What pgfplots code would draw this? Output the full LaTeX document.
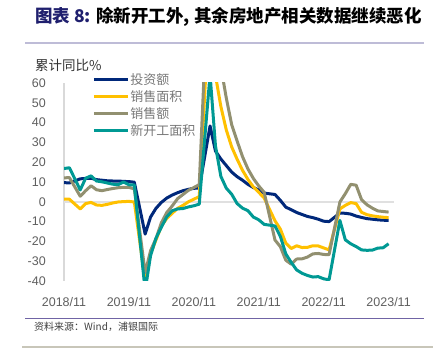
\documentclass[border=0pt]{standalone}
\usepackage{fontspec}
\setmainfont{Liberation Sans}
\newfontfamily\cjk{Noto Sans CJK SC}
\usepackage{pgfplots}
\usepackage{pgfplotstable}
\pgfplotsset{compat=1.18}
\definecolor{cinv}{RGB}{0,40,122}
\definecolor{carea}{RGB}{255,192,0}
\definecolor{camt}{RGB}{146,144,112}
\definecolor{cstart}{RGB}{0,153,148}
\definecolor{tickgray}{RGB}{95,95,95}
\definecolor{leggray}{RGB}{120,120,120}
\definecolor{titleblue}{RGB}{31,31,110}
\definecolor{rulepurple}{RGB}{112,100,165}
\definecolor{rulelight}{RGB}{190,188,215}
\definecolor{rulebeige}{RGB}{200,198,185}

\pgfplotstableread{
x y
0 9.7
1 9.5
3 11.6
4 11.8
5 11.9
6 11.2
7 10.9
8 10.6
9 10.5
10 10.5
11 10.3
12 10.2
13 9.9
15 -16.3
16 -7.7
17 -3.3
18 -0.3
19 1.9
20 3.4
21 4.6
22 5.6
23 6.3
24 6.8
25 7.0
27 38.3
28 25.6
29 21.6
30 18.3
31 15.0
32 12.7
33 10.9
34 8.8
35 7.2
36 6.0
37 4.4
39 3.7
40 0.7
41 -2.7
42 -4.0
43 -5.4
44 -6.4
45 -7.4
46 -8.0
47 -8.8
48 -9.8
49 -10.0
51 -5.7
52 -5.8
53 -6.2
54 -7.2
55 -7.9
56 -8.5
57 -8.8
58 -9.1
59 -9.3
60 -9.4
}\tinv

\pgfplotstableread{
x y
0 1.4
1 1.3
3 -3.6
4 -0.9
5 -0.3
6 -1.6
7 -1.8
8 -1.3
9 -0.6
10 -0.1
11 0.1
12 0.2
13 -0.1
15 -39.9
16 -26.3
17 -19.3
18 -12.3
19 -8.4
20 -5.8
21 -3.3
22 -1.8
23 0.0
24 1.3
25 2.6
27 104.9
28 63.8
29 48.1
30 36.3
31 27.7
32 21.5
33 15.9
34 11.3
35 7.5
36 4.8
37 1.9
39 -9.6
40 -13.8
41 -20.9
42 -23.6
43 -22.2
44 -23.1
45 -23.0
46 -22.2
47 -22.3
48 -23.3
49 -24.3
51 -3.6
52 -1.8
53 -0.4
54 -0.9
55 -5.3
56 -6.5
57 -7.1
58 -7.5
59 -7.8
60 -8.0
}\tarea

\pgfplotstableread{
x y
0 12.1
1 12.2
3 2.8
4 5.6
5 8.1
6 6.1
7 5.6
8 6.2
9 6.7
10 7.1
11 7.3
12 7.3
13 6.5
15 -35.9
16 -24.7
17 -18.6
18 -10.6
19 -5.4
20 -2.1
21 1.6
22 3.7
23 5.8
24 7.2
25 8.7
27 133.4
28 88.5
29 68.2
30 52.4
31 38.9
32 30.7
33 22.8
34 16.6
35 11.8
36 8.0
37 4.8
39 -19.3
40 -22.7
41 -29.5
42 -31.5
43 -28.9
44 -28.8
45 -27.9
46 -26.3
47 -26.1
48 -26.6
49 -26.7
51 -0.1
52 4.1
53 8.8
54 8.4
55 1.1
56 -1.5
57 -3.2
58 -4.6
59 -4.9
60 -5.2
}\tamt

\pgfplotstableread{
x y
0 16.8
1 17.2
3 6.0
4 11.9
5 13.1
6 10.5
7 10.1
8 9.5
9 8.9
10 8.6
11 10.0
12 8.6
13 8.5
15 -44.9
16 -27.2
17 -18.4
18 -12.8
19 -7.6
20 -4.5
21 -3.6
22 -3.4
23 -2.6
24 -2.0
25 -1.2
27 64.3
28 28.2
29 12.8
30 6.9
31 3.8
32 -0.9
33 -3.2
34 -4.5
35 -7.7
36 -9.1
37 -11.4
39 -12.2
40 -17.5
41 -26.3
42 -30.6
43 -34.4
44 -36.1
45 -37.2
46 -38.0
47 -37.8
48 -38.9
49 -39.4
51 -9.4
52 -19.2
53 -21.2
54 -22.6
55 -24.3
56 -24.5
57 -24.4
58 -23.4
59 -23.2
60 -21.2
}\tstart

\begin{document}
\begin{tikzpicture}
\path[use as bounding box] (0,0) rectangle (433pt,353pt);
% title and rules
\node[anchor=west, inner sep=0pt, font=\cjk\bfseries\fontsize{17.5}{17.5}\selectfont] at (35pt,336pt)
  {\textcolor{titleblue}{图表 8:} 除新开工外, 其余房地产相关数据继续恶化};
\draw[rulelight, line width=1.5pt] (25pt,310pt) -- (424pt,310pt);
\draw[rulepurple, line width=0.8pt] (25pt,35pt) -- (424pt,35pt);
\draw[rulebeige, line width=1.5pt] (22pt,6pt) -- (433pt,6pt);
\node[anchor=west, inner sep=0pt, text=black!80, font=\cjk\fontsize{13.5}{13.5}\selectfont] at (35pt,288pt) {累计同比\%};
\node[anchor=west, inner sep=0pt, text=black!75, font=\cjk\fontsize{10}{10}\selectfont] at (34pt,26pt) {资料来源：Wind，浦银国际};

\begin{axis}[
  at={(64pt,72pt)}, anchor=south west,
  scale only axis, width=330pt, height=198pt,
  xmin=0, xmax=61, ymin=-40, ymax=60,
  axis lines*=left,
  x axis line style={draw=none},
  y axis line style={draw=black!15, line width=1.2pt},
  major tick length=0pt,
  xtick={0,12,24,36,48,60},
  xticklabels={2018/11,2019/11,2020/11,2021/11,2022/11,2023/11},
  ytick={-40,-30,-20,-10,0,10,20,30,40,50,60},
  yticklabels={-40,-30,-20,-10,0,10,20,30,40,50,60},
  ticklabel style={font=\fontsize{12.5}{12.5}\selectfont, text=tickgray},
  yticklabel style={anchor=east, inner sep=0pt, xshift=-18pt},
  xticklabel style={anchor=north, inner sep=0pt, yshift=-16pt},
  extra y ticks={0},
  extra y tick labels={},
  extra y tick style={grid=major, major grid style={draw=black!12, line width=1.5pt}},
  legend style={at={(rel axis cs:0.085,1.055)}, anchor=north west, draw=none, fill=none,
    font=\cjk\fontsize{13}{13}\selectfont, text=leggray, row sep=2.5pt, inner sep=0pt,
    nodes={inner sep=1pt}},
  legend cell align=left,
  legend image code/.code={\draw[#1, line width=3.2pt] (0pt,0pt) -- (34pt,0pt);},
  every axis plot/.append style={line width=3pt, line join=round},
]
\addplot[cinv] table[x=x,y=y] {\tinv};
\addlegendentry{投资额}
\addplot[carea] table[x=x,y=y] {\tarea};
\addlegendentry{销售面积}
\addplot[camt] table[x=x,y=y] {\tamt};
\addlegendentry{销售额}
\addplot[cstart] table[x=x,y=y] {\tstart};
\addlegendentry{新开工面积}
\end{axis}
\end{tikzpicture}
\end{document}
